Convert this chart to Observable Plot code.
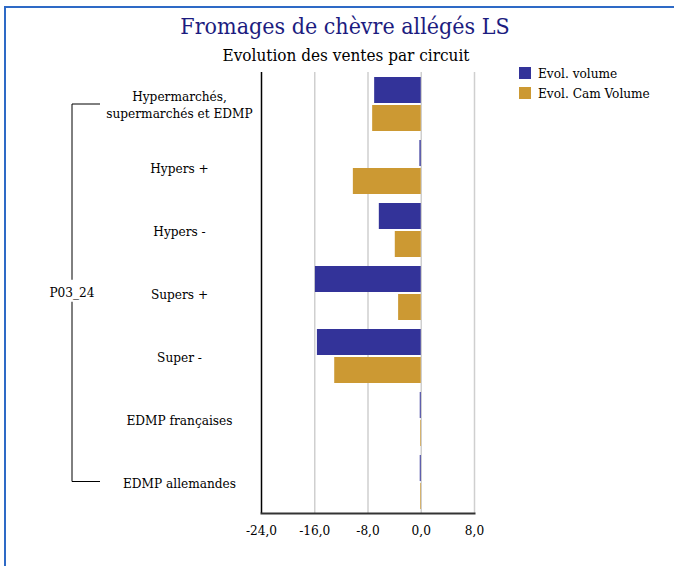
<!DOCTYPE html>
<html>
<head>
<meta charset="utf-8">
<script src="https://cdn.jsdelivr.net/npm/d3@7"></script>
<script src="https://cdn.jsdelivr.net/npm/@observablehq/plot@0.6"></script>
<style>
  html, body { margin: 0; padding: 0; background: #fff; }
  #wrap { position: relative; width: 674px; height: 566px; overflow: hidden; font-family: "DejaVu Serif Condensed", "DejaVu Serif", serif; font-stretch: condensed; }
  #wrap > svg { position: absolute; left: 0; top: 0; }
  #wrap svg text { font-family: "DejaVu Serif Condensed", "DejaVu Serif", serif; font-stretch: condensed; }
  .frame { position: absolute; left: 4px; top: 6px; width: 700px; height: 600px; border-left: 2px solid #2e6ac6; border-top: 2px solid #2e6ac6; }
  .title { position: absolute; left: 0; width: 690px; top: 13px; text-align: center; font-size: 23px; color: #1c1c80; line-height: 1.2; }
  .subtitle { position: absolute; left: 0; width: 692px; top: 45px; text-align: center; font-size: 17px; color: #000; line-height: 1.2; }
  .legend { position: absolute; left: 519px; top: 63px; font-size: 13.5px; color: #000; }
  .legend .item { display: flex; align-items: center; height: 20px; }
  .legend .sw { width: 12px; height: 12px; margin-right: 7px; }
</style>
</head>
<body>
<div id="wrap">
  <div class="frame"></div>
  <div class="title">Fromages de chèvre allégés LS</div>
  <div class="subtitle">Evolution des ventes par circuit</div>
  <div class="legend" id="legend"></div>
</div>
<script>
const categories = ["Hypermarchés,\nsupermarchés et EDMP", "Hypers +", "Hypers -", "Supers +", "Super -", "EDMP françaises", "EDMP allemandes"];
const evolVolume = [-7.0, -0.2, -6.3, -15.9, -15.6, -0.15, -0.15];
const evolCamVolume = [-7.3, -10.2, -3.9, -3.4, -13.0, -0.1, -0.1];
const seriesNames = ["Evol. volume", "Evol. Cam Volume"];
const seriesColors = ["#333399", "#cc9933"];
const xTicks = [-24, -16, -8, 0, 8];
const groupLabel = "P03_24";

const volData = categories.map((c, i) => ({cat: c, v: evolVolume[i]}));
const camData = categories.map((c, i) => ({cat: c, v: evolCamVolume[i]}));
const fmt = d => d3.format(".1f")(d).replace(".", ",").replace("−", "-").replace("-0,0", "0,0");
const FONT = "DejaVu Serif Condensed, DejaVu Serif, serif";

const chart = Plot.plot({
  width: 674,
  height: 566,
  marginLeft: 261,
  marginRight: 200,
  marginTop: 72,
  marginBottom: 53,
  style: {fontFamily: FONT, fontSize: "13px", background: "transparent", color: "#000"},
  x: {domain: [-24, 8]},
  y: {domain: categories, padding: 0},
  marks: [
    Plot.ruleX(xTicks.slice(1), {stroke: "#cfcfcf", strokeWidth: 1.5, strokeOpacity: 1}),
    Plot.barX(volData, {x: 0, x2: "v", y: "cat", fill: seriesColors[0], insetTop: 5, insetBottom: 32}),
    Plot.barX(camData, {x: 0, x2: "v", y: "cat", fill: seriesColors[1], insetTop: 33, insetBottom: 4}),
    Plot.ruleX([-24], {stroke: "#000", strokeWidth: 1.5}),
    Plot.frame({anchor: "bottom", stroke: "#333", strokeWidth: 2}),
    Plot.axisX({ticks: xTicks, tickFormat: fmt, tickSize: 0, tickPadding: 12, label: null, fontSize: 13.5, fontFamily: FONT, fill: "#000"}),
    Plot.axisY({tickSize: 0, tickPadding: 0, dx: -82, textAnchor: "middle", label: null, lineHeight: 1.3, fontSize: 13.5, fontFamily: FONT, fill: "#000"})
  ]
});
document.getElementById("wrap").insertBefore(chart, document.querySelector(".title"));

// legend
const leg = document.getElementById("legend");
seriesNames.forEach((n, i) => {
  const it = document.createElement("div");
  it.className = "item";
  it.innerHTML = `<div class="sw" style="background:${seriesColors[i]}"></div><span>${n}</span>`;
  leg.appendChild(it);
});

// grouping bracket drawn from the y scale
const y = chart.scale("y");
const bw = y.bandwidth;
const yFirst = y.apply(categories[0]) + bw / 2 + 0.5;
const yLast = y.apply(categories[categories.length - 1]) + bw / 2;
const yMid = (yFirst + yLast) / 2;
const svg = d3.select(chart);
const g = svg.append("g").attr("fill", "none").attr("stroke", "#000").attr("stroke-width", 1);
const bx = 72, tx = 100;
g.append("path").attr("d", `M${tx},${yFirst}H${bx}V${yMid - 13}`);
g.append("path").attr("d", `M${bx},${yMid + 9}V${yLast}H${tx}`);
svg.append("text").attr("x", bx).attr("y", yMid).attr("dy", "0.32em")
  .attr("text-anchor", "middle").attr("font-size", "13.5px").attr("fill", "#000").text(groupLabel);
</script>
</body>
</html>
